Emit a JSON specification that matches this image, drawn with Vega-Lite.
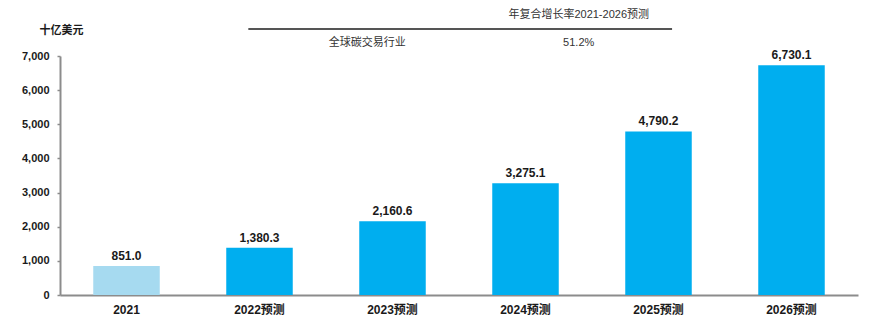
{
  "$schema": "https://vega.github.io/schema/vega-lite/v6.json",
  "width": 798,
  "height": 239,
  "autosize": "none",
  "padding": {"left": 60, "top": 56, "right": 17, "bottom": 32},
  "config": {
    "view": {"stroke": null},
    "font": "Liberation Sans, Noto Sans CJK SC"
  },
  "layer": [
    {
      "data": {
        "values": [
          {"year": "2021", "value": 851.0, "kind": "实际"},
          {"year": "2022预测", "value": 1380.3, "kind": "预测"},
          {"year": "2023预测", "value": 2160.6, "kind": "预测"},
          {"year": "2024预测", "value": 3275.1, "kind": "预测"},
          {"year": "2025预测", "value": 4790.2, "kind": "预测"},
          {"year": "2026预测", "value": 6730.1, "kind": "预测"}
        ]
      },
      "encoding": {
        "x": {
          "field": "year",
          "type": "nominal",
          "sort": null,
          "scale": {"paddingInner": 0.5, "paddingOuter": 0.25},
          "axis": {
            "title": null,
            "labelAngle": 0,
            "ticks": false,
            "domainColor": "#8c8c8c",
            "domainWidth": 2,
            "labelFont": "Liberation Sans, Noto Sans CJK SC",
            "labelFontSize": 12,
            "labelFontWeight": "bold",
            "labelColor": "#1a1a1a",
            "labelPadding": 9
          }
        },
        "y": {
          "field": "value",
          "type": "quantitative",
          "scale": {"domain": [0, 7000]},
          "axis": {
            "title": "十亿美元",
            "titleAngle": 0,
            "titleAlign": "center",
            "titleBaseline": "middle",
            "titleX": 1,
            "titleY": -26,
            "titleFontSize": 11,
            "titleFontWeight": "bold",
            "titleColor": "#1a1a1a",
            "values": [0, 1000, 2000, 3000, 4000, 5000, 6000, 7000],
            "format": ",d",
            "grid": false,
            "domainColor": "#8c8c8c",
            "domainWidth": 2,
            "tickColor": "#8c8c8c",
            "tickSize": 3,
            "tickWidth": 1.5,
            "labelFontSize": 11,
            "labelFontWeight": "bold",
            "labelColor": "#1a1a1a",
            "labelPadding": 8
          }
        }
      },
      "layer": [
        {
          "mark": {"type": "bar"},
          "encoding": {
            "color": {
              "field": "kind",
              "type": "nominal",
              "scale": {"domain": ["实际", "预测"], "range": ["#a6daf0", "#00aeef"]},
              "legend": null
            }
          }
        },
        {
          "mark": {"type": "text", "baseline": "bottom", "dy": -3, "fontSize": 12, "fontWeight": "bold", "color": "#1a1a1a"},
          "encoding": {"text": {"field": "value", "type": "quantitative", "format": ",.1f"}}
        }
      ]
    },
    {
      "data": {
        "values": [
          {"row": "head", "pos": 65.0, "label": "年复合增长率2021-2026预测"},
          {"row": "body", "pos": 38.5, "label": "全球碳交易行业"},
          {"row": "body", "pos": 65.0, "label": "51.2%"}
        ]
      },
      "mark": {"type": "text", "fontSize": 11, "color": "#333333", "baseline": "middle"},
      "encoding": {
        "x": {"field": "pos", "type": "quantitative", "scale": {"domain": [0, 100]}, "axis": null},
        "y": {"field": "row", "type": "ordinal", "scale": {"type": "point", "domain": ["head", "line", "body"], "range": [-41, -13], "padding": 0}, "axis": null},
        "text": {"field": "label"}
      }
    },
    {
      "data": {"values": [{"row": "line", "start": 23.6, "end": 76.7}]},
      "mark": {"type": "rule", "color": "#555555", "strokeWidth": 2},
      "encoding": {
        "x": {"field": "start", "type": "quantitative", "scale": {"domain": [0, 100]}, "axis": null},
        "x2": {"field": "end"},
        "y": {"field": "row", "type": "ordinal", "scale": {"type": "point", "domain": ["head", "line", "body"], "range": [-41, -13], "padding": 0}, "axis": null}
      }
    }
  ],
  "resolve": {"scale": {"x": "independent", "y": "independent"}}
}
